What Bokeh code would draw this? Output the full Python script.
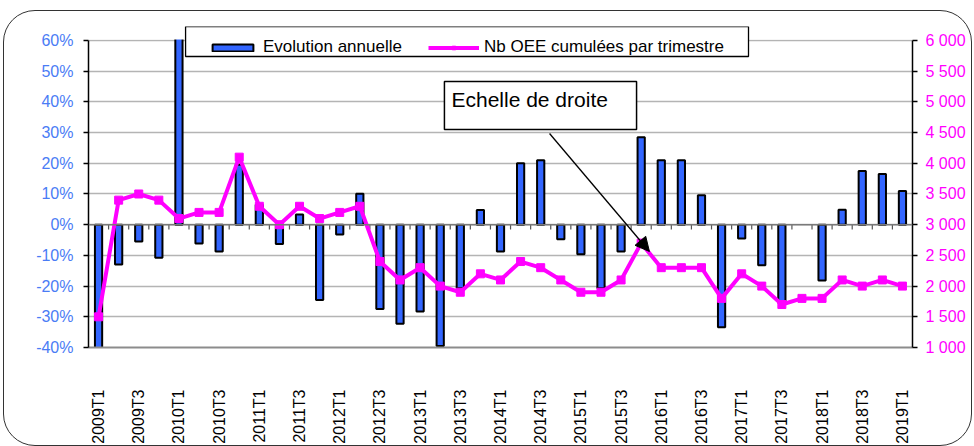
import math
from bokeh.plotting import figure
from bokeh.models import (Range1d, LinearAxis, FixedTicker, Legend, LegendItem, Span,
                          BoxAnnotation, Label, Arrow, NormalHead, ColumnDataSource,
                          InlineStyleSheet)
from bokeh.embed import file_html
from bokeh.resources import INLINE

nan = float("nan")

quarters = ["2009T1", "2009T2", "2009T3", "2009T4",
            "2010T1", "2010T2", "2010T3", "2010T4",
            "2011T1", "2011T2", "2011T3", "2011T4",
            "2012T1", "2012T2", "2012T3", "2012T4",
            "2013T1", "2013T2", "2013T3", "2013T4",
            "2014T1", "2014T2", "2014T3", "2014T4",
            "2015T1", "2015T2", "2015T3", "2015T4",
            "2016T1", "2016T2", "2016T3", "2016T4",
            "2017T1", "2017T2", "2017T3", "2017T4",
            "2018T1", "2018T2", "2018T3", "2018T4",
            "2019T1"]

# Evolution annuelle (%), left scale (first two values run off the axis)
evolution_pct = [-45, -13.0, -5.5, -10.8,
                 64, -6.1, -8.7, 19.5,
                 6.5, -6.3, 3.3, -24.5,
                 -3.2, 10.1, -27.5, -32.3,
                 -28.3, -39.5, -20.7, 4.8,
                 -8.7, 20.0, 21.0, -4.7,
                 -9.6, -20.7, -8.7, 28.5,
                 21.0, 21.0, 9.6, -33.4,
                 -4.5, -13.2, -25.5, nan,
                 -18.2, 4.9, 17.5, 16.5,
                 11.0]

# Nb OEE cumulées par trimestre, right scale
oee_cumul = [1500, 3400, 3500, 3400,
             3100, 3200, 3200, 4100,
             3300, 3000, 3300, 3100,
             3200, 3300, 2400, 2100,
             2300, 2000, 1900, 2200,
             2100, 2400, 2300, 2100,
             1900, 1900, 2100, 2700,
             2300, 2300, 2300, 1800,
             2200, 2000, 1700, 1800,
             1800, 2100, 2000, 2100,
             2000]

left_ticks = [-40, -30, -20, -10, 0, 10, 20, 30, 40, 50, 60]
left_labels = ["-40%", "-30%", "-20%", "-10%", "0%", "10%", "20%", "30%", "40%", "50%", "60%"]
right_ticks = [1000, 1500, 2000, 2500, 3000, 3500, 4000, 4500, 5000, 5500, 6000]
right_labels = ["1 000", "1 500", "2 000", "2 500", "3 000", "3 500", "4 000",
                "4 500", "5 000", "5 500", "6 000"]

FONT = "Liberation Sans"
BLUE_TXT = "#4a7cf5"
MAGENTA = "#ff00ff"
BAR_BLUE = "#3366ff"

idx = list(range(len(quarters)))
src = ColumnDataSource(dict(x=idx, evo=evolution_pct, oee=oee_cumul, q=quarters))

# frame: 88..912 px wide, 26..347 px high; 3.07 px per percent
Y_TOP = 64.56
p = figure(width=974, height=446, x_range=Range1d(-0.5, len(quarters) - 0.5),
           y_range=Range1d(-40, Y_TOP), output_backend="svg", toolbar_location=None,
           min_border_left=88, min_border_right=62, min_border_top=26, min_border_bottom=99)
p.outline_line_color = None
p.background_fill_color = "white"
p.border_fill_color = "white"
p.xgrid.visible = False
p.ygrid.grid_line_color = "#b4b4b4"
p.ygrid.grid_line_width = 1.5
p.ygrid.ticker = FixedTicker(ticks=left_ticks)

# left axis
ly = p.yaxis[0]
ly.ticker = FixedTicker(ticks=left_ticks)
ly.bounds = (-40, 60)
ly.major_label_overrides = dict(zip(left_ticks, left_labels))
ly.major_label_text_color = BLUE_TXT
ly.major_label_text_font = FONT
ly.major_label_text_font_size = "16px"
ly.axis_line_color = "black"
ly.axis_line_width = 1.5
ly.major_tick_line_color = "black"
ly.major_tick_line_width = 1.5
ly.major_tick_out = 5
ly.major_tick_in = 0
ly.minor_tick_line_color = None
ly.major_label_standoff = 10

# right axis
p.extra_y_ranges = {"right": Range1d(1000, 3000 + 50 * Y_TOP)}
ry = LinearAxis(y_range_name="right", ticker=FixedTicker(ticks=right_ticks))
ry.bounds = (1000, 6000)
ry.major_label_overrides = dict(zip(right_ticks, right_labels))
ry.major_label_text_color = MAGENTA
ry.major_label_text_font = FONT
ry.major_label_text_font_size = "16px"
ry.axis_line_color = "black"
ry.axis_line_width = 1.5
ry.major_tick_line_color = "black"
ry.major_tick_line_width = 1.5
ry.major_tick_out = 5
ry.major_tick_in = 0
ry.minor_tick_line_color = None
ry.major_label_standoff = 8
p.add_layout(ry, "right")

# bottom axis (category labels, every second quarter)
tick_idx = idx[::2]
bx = p.xaxis[0]
bx.ticker = FixedTicker(ticks=tick_idx)
bx.major_label_overrides = {i: quarters[i] for i in tick_idx}
bx.major_label_orientation = math.pi / 2
bx.major_label_text_font = FONT
bx.major_label_text_font_size = "16px"
bx.major_label_text_color = "black"
bx.major_tick_line_color = None
bx.minor_tick_line_color = None
bx.axis_line_color = "#8c8c8c"
bx.axis_line_width = 2
bx.major_label_standoff = 36

# category axis line at 0 with tick marks between categories
p.add_layout(Span(location=0, dimension="width", line_color="#7a7a7a", line_width=1.5))
bounds = [i + 0.5 for i in idx[:-1]]
p.segment(x0=bounds, y0=[0] * len(bounds), x1=bounds, y1=[-1.6] * len(bounds),
          line_color="#555555", line_width=1.2)

bars = p.vbar(x="x", top="evo", bottom=0, width=0.36, source=src,
              fill_color=BAR_BLUE, line_color="black", line_width=2)

line = p.line(x="x", y="oee", source=src, y_range_name="right",
              line_color=MAGENTA, line_width=4)
pts = p.scatter(x="x", y="oee", source=src, y_range_name="right", marker="square",
                size=8, fill_color=MAGENTA, line_color=MAGENTA)

# plot area ends at 60 %: mask what lies above it
p.add_layout(BoxAnnotation(bottom=60.3, fill_color="white", fill_alpha=1,
                           line_color=None, line_alpha=0))

# legend frame
p.add_layout(BoxAnnotation(left=4.33, right=32.34, bottom=54.79,
                           fill_color="white", fill_alpha=1,
                           line_color="black", line_alpha=1, line_width=1.3))

# annotation "Echelle de droite"
p.add_layout(BoxAnnotation(left=17.21, right=26.77, top=46.64, bottom=31.0,
                           fill_color="white", fill_alpha=1,
                           line_color="black", line_alpha=1, line_width=1.5))
p.add_layout(Label(x=17.56, y=44.5, text="Echelle de droite", text_font=FONT,
                   text_font_size="21px", text_baseline="top", text_color="black"))
p.add_layout(Arrow(end=NormalHead(size=14, fill_color="black", line_color="black"),
                   x_start=22.44, y_start=29.7, x_end=27.41, y_end=-8.73,
                   line_color="black", line_width=1.3))

legend = Legend(items=[LegendItem(label="Evolution annuelle", renderers=[bars]),
                       LegendItem(label="Nb OEE cumulées par trimestre", renderers=[line, pts])],
                location=(119, 290), orientation="horizontal")
legend.label_text_font = FONT
legend.label_text_font_size = "17px"
legend.label_text_color = "black"
legend.glyph_width = 51
legend.glyph_height = 9
legend.label_standoff = 5
legend.spacing = 26
legend.padding = 5
legend.margin = 0
legend.border_line_color = None
legend.background_fill_alpha = 0
p.add_layout(legend)

# outer rounded border of the chart area
p.stylesheets = [InlineStyleSheet(css=(
    ":host::after { content: ''; position: absolute; left: 3px; top: 10px; "
    "width: 969px; height: 436px; box-sizing: border-box; "
    "border: 1.5px solid #333; border-radius: 32px; pointer-events: none; }"))]

open("out.html", "w").write(file_html(p, INLINE))
